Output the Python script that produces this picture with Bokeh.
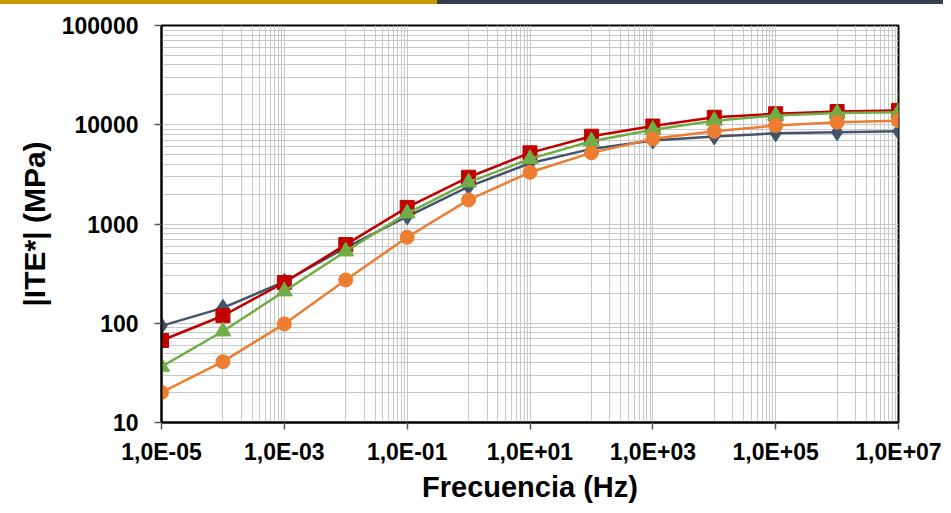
from bokeh.plotting import figure
from bokeh.models import Range1d, FixedTicker, Div
from bokeh.layouts import column
from bokeh.embed import file_html
from bokeh.resources import INLINE

# ---- data ----
frecuencia = [1e-5, 1e-4, 1e-3, 1e-2, 1e-1, 1e0, 1e1, 1e2, 1e3, 1e4, 1e5, 1e6, 1e7]
serie_azul = [94, 143, 262, 578, 1190, 2380, 4090, 5710, 6930, 7600, 8200, 8400, 8600]
serie_roja = [67, 119, 258, 620, 1470, 2960, 5210, 7660, 9700, 11900, 12900, 13600, 13900]
serie_verde = [36.5, 83, 210, 531, 1280, 2630, 4530, 6820, 8890, 11000, 12400, 13100, 13400]
serie_naranja = [20.1, 41, 98.5, 273, 735, 1750, 3320, 5210, 7210, 8590, 9810, 10600, 11000]

x_ticks = [1e-5, 1e-3, 1e-1, 1e1, 1e3, 1e5, 1e7]
x_tick_labels = ["1,0E-05", "1,0E-03", "1,0E-01", "1,0E+01", "1,0E+03", "1,0E+05", "1,0E+07"]
y_ticks = [10, 100, 1000, 10000, 100000]
y_tick_labels = ["10", "100", "1000", "10000", "100000"]

FONT = "Liberation Sans"

p = figure(width=943, height=501, x_axis_type="log", y_axis_type="log",
           x_range=Range1d(1e-5, 1e7), y_range=Range1d(10, 100000),
           output_backend="svg", toolbar_location=None,
           min_border_left=161, min_border_right=45, min_border_top=21, min_border_bottom=83)
p.background_fill_color = "white"
p.border_fill_color = "white"
p.outline_line_color = "black"
p.outline_line_width = 2

# grid lines (Excel-style minor grid)
x_grid = []
for e in range(-5, 7, 2):
    x_grid.append(10.0 ** e)
    for k in range(1, 10):
        x_grid.append(k * 10.0 ** (e + 1))
x_grid.append(1e7)
y_grid = []
for e in range(1, 5):
    for k in range(1, 10):
        y_grid.append(k * 10.0 ** e)
y_grid.append(1e5)

p.xgrid.ticker = FixedTicker(ticks=x_grid)
p.ygrid.ticker = FixedTicker(ticks=y_grid)
for g in (p.xgrid, p.ygrid):
    g.grid_line_color = "#C8C8C8"
    g.grid_line_width = 1

p.xaxis.ticker = FixedTicker(ticks=x_ticks, minor_ticks=[])
p.yaxis.ticker = FixedTicker(ticks=y_ticks, minor_ticks=[])
p.xaxis.major_label_overrides = {t: l for t, l in zip(x_ticks, x_tick_labels)}
p.yaxis.major_label_overrides = {t: l for t, l in zip(y_ticks, y_tick_labels)}

for ax in (p.xaxis[0], p.yaxis[0]):
    ax.axis_line_color = "black"
    ax.axis_line_width = 2
    ax.major_tick_line_color = "#595959"
    ax.major_tick_line_width = 1.5
    ax.major_tick_out = 7
    ax.major_tick_in = 0
    ax.minor_tick_out = 0
    ax.minor_tick_in = 0
    ax.major_label_text_font = FONT
    ax.major_label_text_font_style = "bold"
    ax.major_label_text_font_size = "23px"
    ax.major_label_text_color = "black"
    ax.axis_label_text_font = FONT
    ax.axis_label_text_font_style = "bold"
    ax.axis_label_text_color = "black"

p.xaxis.axis_label = "Frecuencia (Hz)"
p.yaxis.axis_label = "|ITE*| (MPa)"
p.xaxis.axis_label_text_font_size = "29px"
p.yaxis.axis_label_text_font_size = "30px"
p.xaxis.major_label_standoff = 9
p.yaxis.major_label_standoff = 16
p.xaxis.axis_label_standoff = 3
p.yaxis.axis_label_standoff = 8

# series
c_azul, c_rojo, c_verde, c_naranja = "#44546A", "#C00000", "#70AD47", "#ED7D31"
p.line(frecuencia, serie_azul, line_color=c_azul, line_width=2.5)
p.scatter(frecuencia, serie_azul, marker="diamond", size=17, fill_color=c_azul, line_color=c_azul)
p.line(frecuencia, serie_roja, line_color=c_rojo, line_width=2.5)
p.scatter(frecuencia, serie_roja, marker="square", size=14, fill_color=c_rojo, line_color=c_rojo)
p.line(frecuencia, serie_verde, line_color=c_verde, line_width=2.5)
p.scatter(frecuencia, serie_verde, marker="triangle", size=16, fill_color=c_verde, line_color=c_verde)
p.line(frecuencia, serie_naranja, line_color=c_naranja, line_width=2.5)
p.scatter(frecuencia, serie_naranja, marker="circle", size=14, fill_color=c_naranja, line_color=c_naranja)

# decorative header bar
header = Div(
    text="",
    width=943, height=4, margin=(0, 0, 0, 0),
    styles={"background": "linear-gradient(to right, #C99700 0px, #C99700 437px, "
                          "#323F4F 437px, #323F4F 943px)",
            "width": "943px", "height": "4px"})

layout = column(header, p, spacing=0, margin=(0, 0, 0, 0))
open("out.html", "w").write(file_html(layout, INLINE))
